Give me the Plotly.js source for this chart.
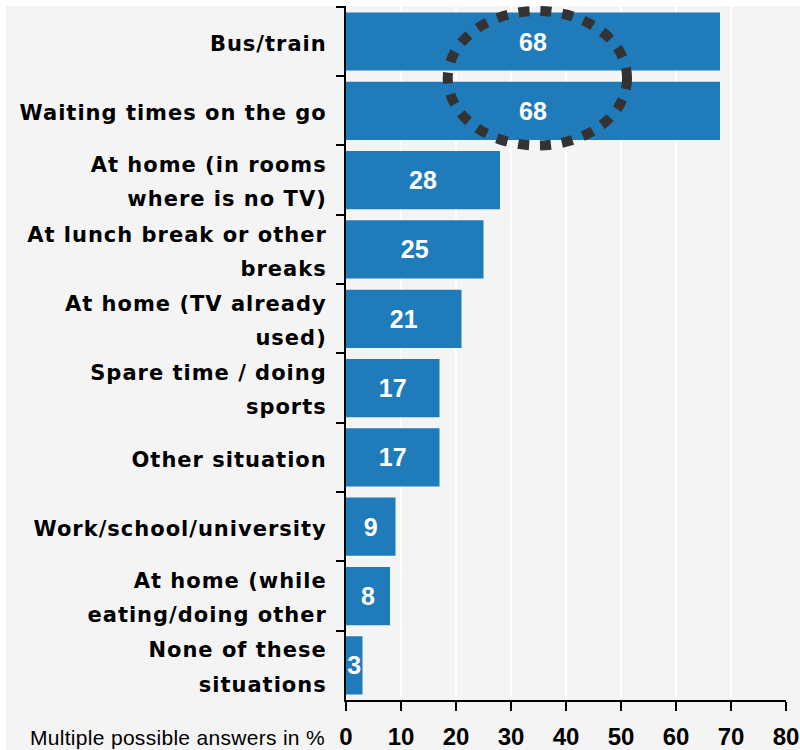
<!DOCTYPE html>
<html>
<head>
<meta charset="utf-8">
<script src="https://cdn.plot.ly/plotly-3.0.1.min.js"></script>
<style>
  html, body { margin: 0; padding: 0; background: #ffffff; }
  #chart { width: 800px; height: 750px; }
  .ytick text { letter-spacing: 1px; }
  .annotation-text { letter-spacing: 0.3px; }
</style>
</head>
<body>
<div id="chart"></div>
<script>
// Data
var categories = [
  "Bus/train",
  "Waiting times on the go",
  "At home (in rooms<br>where is no TV)",
  "At lunch break or other<br>breaks",
  "At home (TV already<br>used)",
  "Spare time / doing<br>sports",
  "Other situation",
  "Work/school/university",
  "At home (while<br>eating/doing other",
  "None of these<br>situations"
];
var values = [68, 68, 28, 25, 21, 17, 17, 9, 8, 3];
var xTickValues = [0, 10, 20, 30, 40, 50, 60, 70, 80];
var axisNote = "Multiple possible answers in %";

// Highlight ellipse around the two top bars (data coordinates)
var highlightX = [18.5, 51.1];
var highlightY = [-0.44, 1.50];

// Wrap each label line so glyphs are 21px while line spacing follows the larger tick font
var labelLines = categories.map(function (c) {
  return c.split("<br>").map(function (l) {
    return '<span style="font-size:21px">' + l + '</span>';
  }).join("<br>");
});

var barColor = "#1f7bb9";
var bg = "#f4f4f4";

var trace = {
  type: "bar",
  orientation: "h",
  x: values,
  y: labelLines,
  text: values.map(String),
  textposition: "inside",
  insidetextanchor: "middle",
  textangle: 0,
  constraintext: "none",
  textfont: { family: "Liberation Sans, Arial, sans-serif", size: 25, color: "#ffffff", weight: "bold" },
  marker: { color: barColor, line: { width: 0 } },
  hoverinfo: "none",
  cliponaxis: false
};

var L = 346, R = 14, T = 6, B = 50;
var W = 800 - L - R, H = 750 - T - B;

var layout = {
  width: 800,
  height: 750,
  margin: { l: L, r: R, t: T, b: B, pad: 0 },
  paper_bgcolor: "#ffffff",
  plot_bgcolor: bg,
  showlegend: false,
  bargap: 0.16,
  xaxis: {
    range: [0, 80],
    tickmode: "array",
    tickvals: xTickValues,
    ticktext: xTickValues.map(String),
    showgrid: true,
    gridcolor: "#ffffff",
    gridwidth: 2,
    zeroline: false,
    showline: true,
    linecolor: "#000000",
    linewidth: 2,
    ticks: "outside",
    ticklen: 9,
    tickwidth: 2,
    tickcolor: "#000000",
    ticklabelstandoff: 5,
    ticklabeloverflow: "allow",
    tickfont: { family: "Liberation Sans, Arial, sans-serif", size: 24, color: "#000000", weight: "bold" },
    fixedrange: true
  },
  yaxis: {
    type: "category",
    autorange: "reversed",
    showgrid: false,
    zeroline: false,
    showline: true,
    linecolor: "#000000",
    linewidth: 2,
    ticks: "outside",
    tickson: "boundaries",
    ticklen: 8,
    tickwidth: 2,
    tickcolor: "#000000",
    ticklabelstandoff: 12,
    tickfont: { family: "DejaVu Sans, Verdana, sans-serif", size: 26.2, color: "#000000", weight: "bold" },
    fixedrange: true
  },
  shapes: [
    {
      type: "rect",
      xref: "paper", yref: "paper",
      x0: (6 - L) / W, x1: (800 - L) / W,
      y0: -B / H, y1: 1,
      fillcolor: bg,
      line: { width: 0 },
      layer: "below"
    },
    {
      type: "circle",
      xref: "x", yref: "y",
      x0: highlightX[0], x1: highlightX[1],
      y0: highlightY[0], y1: highlightY[1],
      line: { color: "#333333", width: 10, dash: "11px,11px" },
      fillcolor: "rgba(0,0,0,0)",
      layer: "above"
    }
  ],
  annotations: [
    {
      text: axisNote,
      xref: "paper", yref: "paper",
      x: (327 - L) / W,
      y: -B / H,
      xanchor: "right",
      yanchor: "bottom",
      yshift: -1,
      showarrow: false,
      font: { family: "Liberation Sans, Arial, sans-serif", size: 21, color: "#000000" }
    }
  ]
};

Plotly.newPlot("chart", [trace], layout, { displayModeBar: false, staticPlot: true });
</script>
</body>
</html>
